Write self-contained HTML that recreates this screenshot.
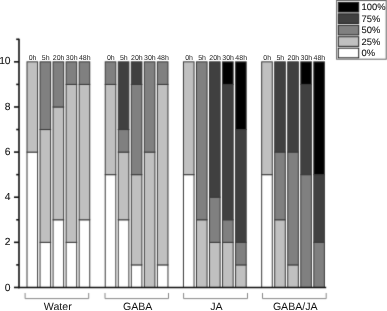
<!DOCTYPE html>
<html><head><meta charset="utf-8"><style>
html,body{margin:0;padding:0;background:#fff;}
body{width:387px;height:311px;overflow:hidden;}
svg{display:block;filter:grayscale(1);}
text{font-family:"Liberation Sans",sans-serif;fill:#111;text-rendering:geometricPrecision;}
.h{font-size:7px;text-anchor:middle;fill:#222;}
.g{font-size:10.6px;text-anchor:middle;}
.y{font-size:10.3px;text-anchor:end;stroke:#111;stroke-width:0.08px;}
.l{font-size:9.4px;stroke:#111;stroke-width:0.1px;}
</style></head><body>
<svg width="387" height="311" viewBox="0 0 387 311">
<defs><filter id="bl" x="0" y="0" width="387" height="311" filterUnits="userSpaceOnUse" color-interpolation-filters="sRGB"><feConvolveMatrix order="3" kernelMatrix="0.0183 0.1353 0.0183 0.1353 1.0000 0.1353 0.0183 0.1353 0.0183" edgeMode="duplicate" preserveAlpha="true"/></filter></defs>
<g filter="url(#bl)"><rect width="387" height="311" fill="#fff"/>
<rect x="27.00" y="152.09" width="10.60" height="135.36" fill="#ffffff" stroke="#3a3a3a" stroke-width="1.0"/>
<rect x="27.00" y="61.85" width="10.60" height="90.24" fill="#c0c0c0" stroke="#3a3a3a" stroke-width="1.0"/>
<rect x="40.04" y="242.33" width="10.60" height="45.12" fill="#ffffff" stroke="#3a3a3a" stroke-width="1.0"/>
<rect x="40.04" y="129.53" width="10.60" height="112.80" fill="#c0c0c0" stroke="#3a3a3a" stroke-width="1.0"/>
<rect x="40.04" y="61.85" width="10.60" height="67.68" fill="#808080" stroke="#3a3a3a" stroke-width="1.0"/>
<rect x="53.07" y="219.77" width="10.60" height="67.68" fill="#ffffff" stroke="#3a3a3a" stroke-width="1.0"/>
<rect x="53.07" y="106.97" width="10.60" height="112.80" fill="#c0c0c0" stroke="#3a3a3a" stroke-width="1.0"/>
<rect x="53.07" y="61.85" width="10.60" height="45.12" fill="#808080" stroke="#3a3a3a" stroke-width="1.0"/>
<rect x="66.11" y="242.33" width="10.60" height="45.12" fill="#ffffff" stroke="#3a3a3a" stroke-width="1.0"/>
<rect x="66.11" y="84.41" width="10.60" height="157.92" fill="#c0c0c0" stroke="#3a3a3a" stroke-width="1.0"/>
<rect x="66.11" y="61.85" width="10.60" height="22.56" fill="#808080" stroke="#3a3a3a" stroke-width="1.0"/>
<rect x="79.15" y="219.77" width="10.60" height="67.68" fill="#ffffff" stroke="#3a3a3a" stroke-width="1.0"/>
<rect x="79.15" y="84.41" width="10.60" height="135.36" fill="#c0c0c0" stroke="#3a3a3a" stroke-width="1.0"/>
<rect x="79.15" y="61.85" width="10.60" height="22.56" fill="#808080" stroke="#3a3a3a" stroke-width="1.0"/>
<path d="M25.10 293 V298.6 H88.70 V293" fill="none" stroke="#888" stroke-width="1"/>
<rect x="105.22" y="174.65" width="10.60" height="112.80" fill="#ffffff" stroke="#3a3a3a" stroke-width="1.0"/>
<rect x="105.22" y="84.41" width="10.60" height="90.24" fill="#c0c0c0" stroke="#3a3a3a" stroke-width="1.0"/>
<rect x="105.22" y="61.85" width="10.60" height="22.56" fill="#808080" stroke="#3a3a3a" stroke-width="1.0"/>
<rect x="118.26" y="219.77" width="10.60" height="67.68" fill="#ffffff" stroke="#3a3a3a" stroke-width="1.0"/>
<rect x="118.26" y="152.09" width="10.60" height="67.68" fill="#c0c0c0" stroke="#3a3a3a" stroke-width="1.0"/>
<rect x="118.26" y="129.53" width="10.60" height="22.56" fill="#808080" stroke="#3a3a3a" stroke-width="1.0"/>
<rect x="118.26" y="61.85" width="10.60" height="67.68" fill="#404040" stroke="#3a3a3a" stroke-width="1.0"/>
<rect x="131.30" y="264.89" width="10.60" height="22.56" fill="#ffffff" stroke="#3a3a3a" stroke-width="1.0"/>
<rect x="131.30" y="174.65" width="10.60" height="90.24" fill="#c0c0c0" stroke="#3a3a3a" stroke-width="1.0"/>
<rect x="131.30" y="84.41" width="10.60" height="90.24" fill="#808080" stroke="#3a3a3a" stroke-width="1.0"/>
<rect x="131.30" y="61.85" width="10.60" height="22.56" fill="#404040" stroke="#3a3a3a" stroke-width="1.0"/>
<rect x="144.33" y="152.09" width="10.60" height="135.36" fill="#c0c0c0" stroke="#3a3a3a" stroke-width="1.0"/>
<rect x="144.33" y="61.85" width="10.60" height="90.24" fill="#808080" stroke="#3a3a3a" stroke-width="1.0"/>
<rect x="157.37" y="264.89" width="10.60" height="22.56" fill="#ffffff" stroke="#3a3a3a" stroke-width="1.0"/>
<rect x="157.37" y="84.41" width="10.60" height="180.48" fill="#c0c0c0" stroke="#3a3a3a" stroke-width="1.0"/>
<rect x="157.37" y="61.85" width="10.60" height="22.56" fill="#808080" stroke="#3a3a3a" stroke-width="1.0"/>
<path d="M105.00 293 V298.6 H168.50 V293" fill="none" stroke="#888" stroke-width="1"/>
<rect x="183.44" y="174.65" width="10.60" height="112.80" fill="#ffffff" stroke="#3a3a3a" stroke-width="1.0"/>
<rect x="183.44" y="61.85" width="10.60" height="112.80" fill="#c0c0c0" stroke="#3a3a3a" stroke-width="1.0"/>
<rect x="196.48" y="219.77" width="10.60" height="67.68" fill="#c0c0c0" stroke="#3a3a3a" stroke-width="1.0"/>
<rect x="196.48" y="61.85" width="10.60" height="157.92" fill="#808080" stroke="#3a3a3a" stroke-width="1.0"/>
<rect x="209.52" y="242.33" width="10.60" height="45.12" fill="#c0c0c0" stroke="#3a3a3a" stroke-width="1.0"/>
<rect x="209.52" y="197.21" width="10.60" height="45.12" fill="#808080" stroke="#3a3a3a" stroke-width="1.0"/>
<rect x="209.52" y="61.85" width="10.60" height="135.36" fill="#404040" stroke="#3a3a3a" stroke-width="1.0"/>
<rect x="222.56" y="242.33" width="10.60" height="45.12" fill="#c0c0c0" stroke="#3a3a3a" stroke-width="1.0"/>
<rect x="222.56" y="219.77" width="10.60" height="22.56" fill="#808080" stroke="#3a3a3a" stroke-width="1.0"/>
<rect x="222.56" y="84.41" width="10.60" height="135.36" fill="#404040" stroke="#3a3a3a" stroke-width="1.0"/>
<rect x="222.56" y="61.85" width="10.60" height="22.56" fill="#000000" stroke="#3a3a3a" stroke-width="1.0"/>
<rect x="235.59" y="264.89" width="10.60" height="22.56" fill="#c0c0c0" stroke="#3a3a3a" stroke-width="1.0"/>
<rect x="235.59" y="242.33" width="10.60" height="22.56" fill="#808080" stroke="#3a3a3a" stroke-width="1.0"/>
<rect x="235.59" y="129.53" width="10.60" height="112.80" fill="#404040" stroke="#3a3a3a" stroke-width="1.0"/>
<rect x="235.59" y="61.85" width="10.60" height="67.68" fill="#000000" stroke="#3a3a3a" stroke-width="1.0"/>
<path d="M183.60 293 V298.6 H247.50 V293" fill="none" stroke="#888" stroke-width="1"/>
<rect x="261.67" y="174.65" width="10.60" height="112.80" fill="#ffffff" stroke="#3a3a3a" stroke-width="1.0"/>
<rect x="261.67" y="61.85" width="10.60" height="112.80" fill="#c0c0c0" stroke="#3a3a3a" stroke-width="1.0"/>
<rect x="274.70" y="219.77" width="10.60" height="67.68" fill="#c0c0c0" stroke="#3a3a3a" stroke-width="1.0"/>
<rect x="274.70" y="152.09" width="10.60" height="67.68" fill="#808080" stroke="#3a3a3a" stroke-width="1.0"/>
<rect x="274.70" y="61.85" width="10.60" height="90.24" fill="#404040" stroke="#3a3a3a" stroke-width="1.0"/>
<rect x="287.74" y="264.89" width="10.60" height="22.56" fill="#c0c0c0" stroke="#3a3a3a" stroke-width="1.0"/>
<rect x="287.74" y="152.09" width="10.60" height="112.80" fill="#808080" stroke="#3a3a3a" stroke-width="1.0"/>
<rect x="287.74" y="61.85" width="10.60" height="90.24" fill="#404040" stroke="#3a3a3a" stroke-width="1.0"/>
<rect x="300.78" y="174.65" width="10.60" height="112.80" fill="#808080" stroke="#3a3a3a" stroke-width="1.0"/>
<rect x="300.78" y="84.41" width="10.60" height="90.24" fill="#404040" stroke="#3a3a3a" stroke-width="1.0"/>
<rect x="300.78" y="61.85" width="10.60" height="22.56" fill="#000000" stroke="#3a3a3a" stroke-width="1.0"/>
<rect x="313.81" y="242.33" width="10.60" height="45.12" fill="#808080" stroke="#3a3a3a" stroke-width="1.0"/>
<rect x="313.81" y="174.65" width="10.60" height="67.68" fill="#404040" stroke="#3a3a3a" stroke-width="1.0"/>
<rect x="313.81" y="61.85" width="10.60" height="112.80" fill="#000000" stroke="#3a3a3a" stroke-width="1.0"/>
<path d="M262.50 293 V298.6 H326.20 V293" fill="none" stroke="#888" stroke-width="1"/>
<line x1="19.0" y1="38.79" x2="19.0" y2="288.15" stroke="#111" stroke-width="1.6"/>
<line x1="18.3" y1="287.45" x2="326.2" y2="287.45" stroke="#111" stroke-width="1.6"/>
<line x1="14.00" y1="287.45" x2="19.0" y2="287.45" stroke="#111" stroke-width="1.6"/>
<line x1="16.20" y1="264.89" x2="19.0" y2="264.89" stroke="#111" stroke-width="1.6"/>
<line x1="14.00" y1="242.33" x2="19.0" y2="242.33" stroke="#111" stroke-width="1.6"/>
<line x1="16.20" y1="219.77" x2="19.0" y2="219.77" stroke="#111" stroke-width="1.6"/>
<line x1="14.00" y1="197.21" x2="19.0" y2="197.21" stroke="#111" stroke-width="1.6"/>
<line x1="16.20" y1="174.65" x2="19.0" y2="174.65" stroke="#111" stroke-width="1.6"/>
<line x1="14.00" y1="152.09" x2="19.0" y2="152.09" stroke="#111" stroke-width="1.6"/>
<line x1="16.20" y1="129.53" x2="19.0" y2="129.53" stroke="#111" stroke-width="1.6"/>
<line x1="14.00" y1="106.97" x2="19.0" y2="106.97" stroke="#111" stroke-width="1.6"/>
<line x1="16.20" y1="84.41" x2="19.0" y2="84.41" stroke="#111" stroke-width="1.6"/>
<line x1="14.00" y1="61.85" x2="19.0" y2="61.85" stroke="#111" stroke-width="1.6"/>
<line x1="16.20" y1="39.29" x2="19.0" y2="39.29" stroke="#111" stroke-width="1.6"/>
<rect x="336.6" y="0.5" width="49.6" height="58.7" fill="#fff" stroke="#666" stroke-width="1"/>
<rect x="338.3" y="2.40" width="20.4" height="9.6" fill="#000000" stroke="#222" stroke-width="1"/>
<rect x="338.3" y="13.85" width="20.4" height="9.6" fill="#404040" stroke="#222" stroke-width="1"/>
<rect x="338.3" y="25.30" width="20.4" height="9.6" fill="#808080" stroke="#222" stroke-width="1"/>
<rect x="338.3" y="36.75" width="20.4" height="9.6" fill="#c0c0c0" stroke="#222" stroke-width="1"/>
<rect x="338.3" y="48.20" width="20.4" height="9.6" fill="#ffffff" stroke="#222" stroke-width="1"/>
</g>
<g><text x="32.60" y="59.7" class="h">0h</text>
<text x="45.64" y="59.7" class="h">5h</text>
<text x="58.67" y="59.7" class="h">20h</text>
<text x="71.71" y="59.7" class="h">30h</text>
<text x="84.75" y="59.7" class="h">48h</text>
<text x="57.80" y="310.3" class="g">Water</text>
<text x="110.82" y="59.7" class="h">0h</text>
<text x="123.86" y="59.7" class="h">5h</text>
<text x="136.90" y="59.7" class="h">20h</text>
<text x="149.93" y="59.7" class="h">30h</text>
<text x="162.97" y="59.7" class="h">48h</text>
<text x="137.65" y="310.3" class="g">GABA</text>
<text x="189.04" y="59.7" class="h">0h</text>
<text x="202.08" y="59.7" class="h">5h</text>
<text x="215.12" y="59.7" class="h">20h</text>
<text x="228.16" y="59.7" class="h">30h</text>
<text x="241.19" y="59.7" class="h">48h</text>
<text x="216.45" y="310.3" class="g">JA</text>
<text x="267.27" y="59.7" class="h">0h</text>
<text x="280.30" y="59.7" class="h">5h</text>
<text x="293.34" y="59.7" class="h">20h</text>
<text x="306.38" y="59.7" class="h">30h</text>
<text x="319.41" y="59.7" class="h">48h</text>
<text x="295.25" y="310.3" class="g">GABA/JA</text>
<text x="10.6" y="290.55" class="y">0</text>
<text x="10.6" y="245.43" class="y">2</text>
<text x="10.6" y="200.31" class="y">4</text>
<text x="10.6" y="155.19" class="y">6</text>
<text x="10.6" y="110.07" class="y">8</text>
<text x="10.6" y="64.45" class="y">10</text>
<text x="361.6" y="10.20" class="l">100%</text>
<text x="361.6" y="21.65" class="l">75%</text>
<text x="361.6" y="33.10" class="l">50%</text>
<text x="361.6" y="44.55" class="l">25%</text>
<text x="361.6" y="56.00" class="l">0%</text></g></svg>
</body></html>
